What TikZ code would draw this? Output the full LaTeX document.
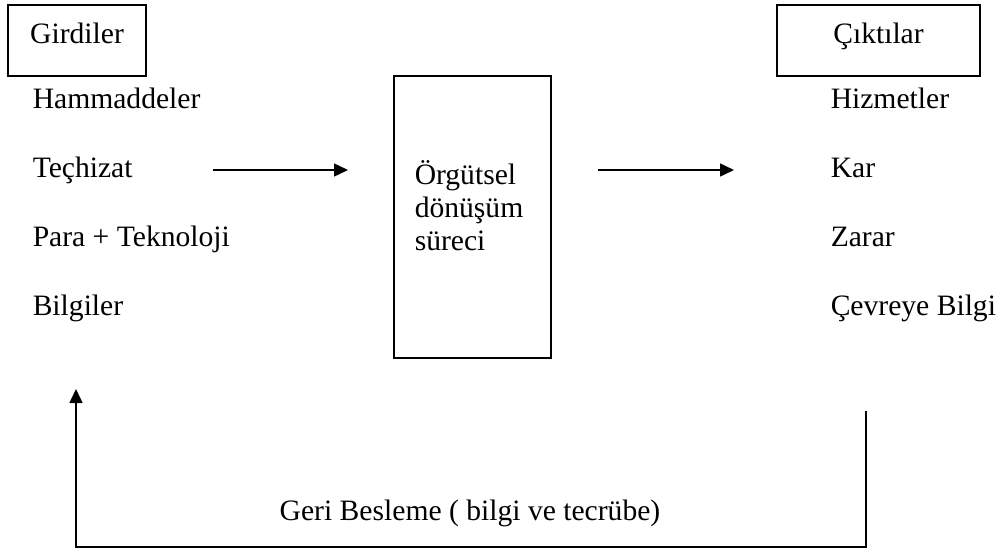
\documentclass[tikz,border=0pt]{standalone}
\usepackage{fontspec}
\setmainfont{Liberation Serif}
\usetikzlibrary{positioning, arrows.meta}

\tikzset{
	txt/.style={font=\fontsize{14.8}{16.5}\selectfont, inner sep=0pt},
	headbox/.style={txt, draw, line width=0.75pt, text height=19pt, text depth=16.5pt},
	item/.style={txt, anchor=base west},
}

\begin{document}
\begin{tikzpicture}[x=0.5pt, y=-0.5pt, line width=0.75pt, >={Triangle[length=7pt, width=6.5pt]}]
	\useasboundingbox (0, 0) rectangle (1002, 552);

	% headers
	\node[headbox, minimum width=69pt]  (girdi) at (77, 40.5)  {Girdiler};
	\node[headbox, minimum width=101.5pt] (cikti) at (878.5, 40.5) {Çıktılar};

	% lists
	\foreach \t [count=\i] in {Hammaddeler, Teçhizat, Para + Teknoloji, Bilgiler}
		\node[item] (in\i) at (32, {108+69*(\i-1)}) {\t};
	\foreach \t [count=\i] in {Hizmetler, Kar, Zarar, Çevreye Bilgi}
		\node[item] (out\i) at (830, {108+69*(\i-1)}) {\t};

	% process
	\node[draw, minimum width=78.5pt, minimum height=141pt] (proc) at (472.5, 217) {};
	\node[txt, align=left, anchor=west] (proctext) at (414, 206) {Örgütsel\\dönüşüm\\süreci};

	\coordinate (a1s) at (213, 170);
	\coordinate (a1e) at (348, 170);
	\coordinate (a2s) at (598, 170);
	\coordinate (a2e) at (734, 170);
	\draw[->] (a1s) -- (a1e);
	\draw[->] (a2s) -- (a2e);

	% feedback
	\coordinate (fbr) at (866, 411);
	\coordinate (fbl) at (76, 389);
	\draw[->] (fbr) -- ++(0, 136) -| (fbl);
	\node[txt] (fbtext) at (470, 513) {Geri Besleme ( bilgi ve tecrübe)};
\end{tikzpicture}
\end{document}
